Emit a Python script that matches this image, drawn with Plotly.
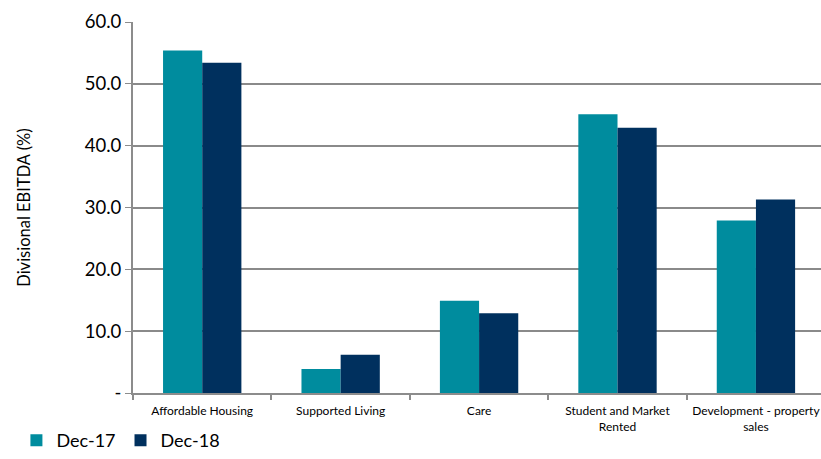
import plotly.graph_objects as go

categories = ["Affordable Housing", "Supported Living", "Care",
              "Student and Market<br>Rented", "Development - property<br>sales"]
dec17 = [55.4, 3.9, 14.9, 45.1, 27.9]
dec18 = [53.4, 6.2, 12.9, 42.9, 31.3]
ytick_vals = [0, 10, 20, 30, 40, 50, 60]
ytick_text = ["-", "10.0", "20.0", "30.0", "40.0", "50.0", "60.0"]

fig = go.Figure()
fig.add_trace(go.Bar(x=categories, y=dec17, name="Dec-17", marker_color="#008C9E",
                     marker_line_width=0))
fig.add_trace(go.Bar(x=categories, y=dec18, name="Dec-18", marker_color="#00305E",
                     marker_line_width=0))

fig.update_layout(
    width=821, height=459,
    margin=dict(l=133, r=0, t=22, b=66),
    paper_bgcolor="white", plot_bgcolor="white",
    barmode="group", bargap=0.434, bargroupgap=0,
    font=dict(family="Lato, Open Sans, sans-serif", color="#000000"),
    legend=dict(orientation="h", xref="container", yref="container",
                x=0.02, y=-0.025, xanchor="left", yanchor="bottom",
                font=dict(size=18), itemwidth=30, tracegroupgap=0),
    xaxis=dict(range=[-0.5, 4.47], showgrid=False, showline=True,
               linecolor="#8c8c8c", linewidth=2, automargin=False,
               ticks="outside", tickson="boundaries", ticklen=5,
               tickcolor="#8c8c8c", tickwidth=1.5,
               ticklabelstandoff=6,
               tickfont=dict(size=12)),
    yaxis=dict(range=[0, 60], tickvals=ytick_vals, ticktext=ytick_text,
               showgrid=True, gridcolor="#8a8a8a", gridwidth=1.5,
               showline=True, linecolor="#8c8c8c", linewidth=2,
               automargin=False,
               ticks="outside", ticklen=6, tickcolor="#8c8c8c",
               tickfont=dict(size=18.5), zeroline=False,
               title=dict(text="Divisional EBITDA (%)", font=dict(size=16.5),
                          standoff=50)),
)

fig.write_html("out.html")
